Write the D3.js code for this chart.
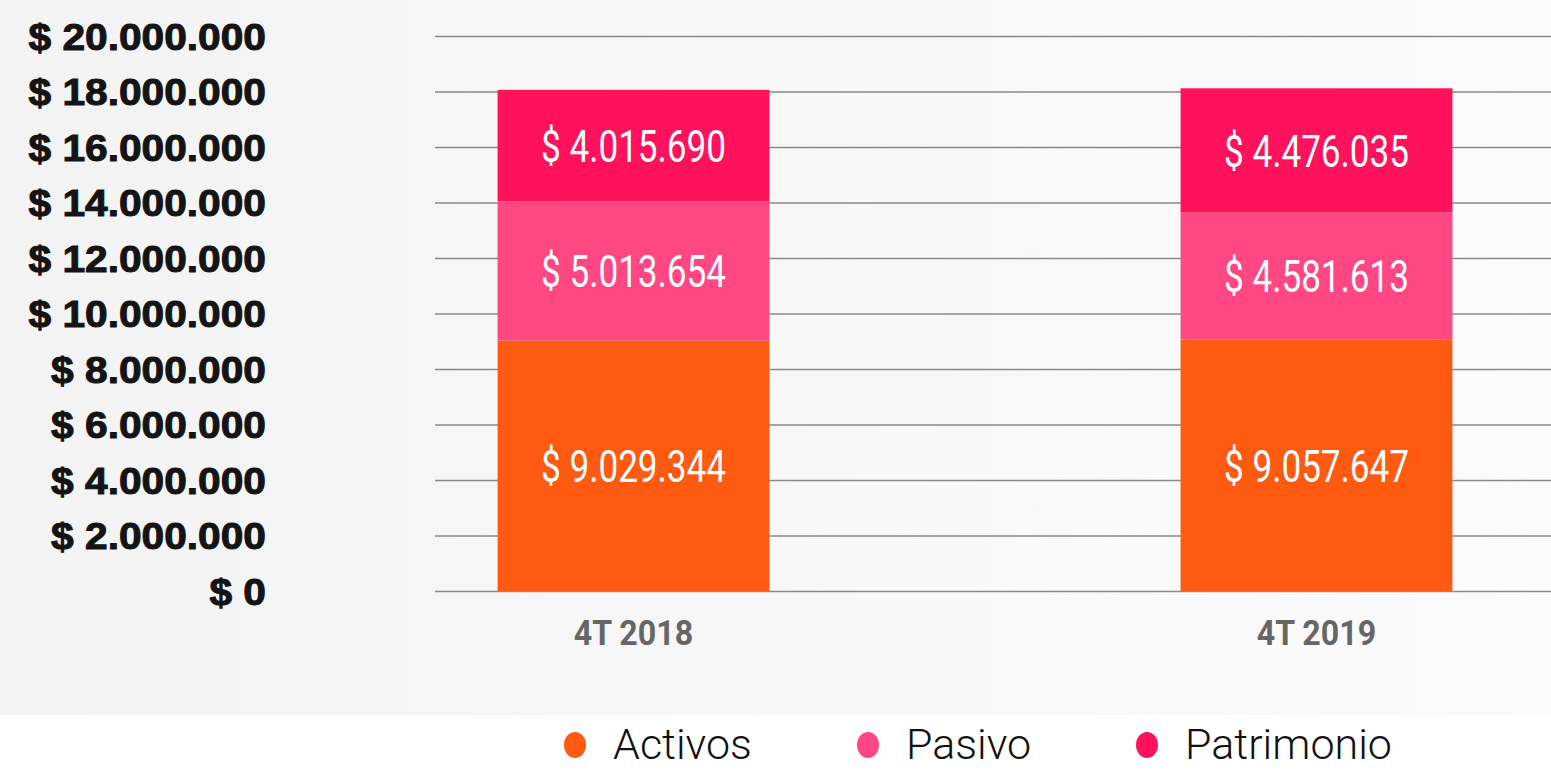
<!DOCTYPE html>
<html>
<head>
<meta charset="utf-8">
<script src="https://cdn.jsdelivr.net/npm/d3@7"></script>
<style>
  html, body { margin: 0; padding: 0; background: #fff; overflow: hidden; }
</style>
</head>
<body>
<div class="chart-container"></div>
<script>
//! DATA
const categories = ['4T 2018', '4T 2019'];
const seriesNames = ['Activos', 'Pasivo', 'Patrimonio'];
const activos = [9029344, 9057647];
const pasivo = [5013654, 4581613];
const patrimonio = [4015690, 4476035];
const yTicks = [0, 2000000, 4000000, 6000000, 8000000, 10000000, 12000000, 14000000, 16000000, 18000000, 20000000];
const colors = ['#ff5a12', '#ff4784', '#ff115b'];

//! CONSTS
const width = 1551;
const height = 770;

const fmt = (v) => '$ ' + d3.format(',')(v).replace(/,/g, '.');

const svg = d3.select('.chart-container')
  .append('svg')
  .attr('width', width)
  .attr('height', height);

//! BACKGROUND
const grad = svg.append('defs').append('linearGradient')
  .attr('id', 'bg').attr('x1', 0).attr('x2', 1).attr('y1', 0).attr('y2', 0);
grad.append('stop').attr('offset', 0).attr('stop-color', '#f3f3f3');
grad.append('stop').attr('offset', 0.45).attr('stop-color', '#f7f7f7');
grad.append('stop').attr('offset', 1).attr('stop-color', '#fbfbfc');
svg.append('rect').attr('width', width).attr('height', 715).attr('fill', 'url(#bg)');

// stacked rows
const rows = categories.map((c, i) => ({ cat: c, Activos: activos[i], Pasivo: pasivo[i], Patrimonio: patrimonio[i] }));
const stacked = d3.stack().keys(seriesNames)(rows);

//! SCALES
const x = d3.scaleBand()
  .domain(categories)
  .range([292, 1658])
  .paddingInner(0.602)
  .paddingOuter(0.301);

const y = d3.scaleLinear()
  .domain([0, 20000000])
  .range([591, 36]);

//! GRID
svg.append('g')
  .attr('transform', 'translate(1551,0)')
  .call(d3.axisRight(y).tickValues(yTicks).tickSize(-(1551 - 435)).tickFormat(''))
  .call(g => g.select('.domain').remove())
  .call(g => g.selectAll('line').attr('stroke', '#8a8a8a').attr('stroke-width', 1.5));

//! Y AXIS
svg.append('g')
  .attr('transform', 'translate(266,0)')
  .call(d3.axisLeft(y).tickValues(yTicks).tickSize(0).tickPadding(0).tickFormat(fmt))
  .call(g => g.select('.domain').remove())
  .call(g => g.selectAll('text')
    .attr('x', 0)
    .attr('transform', 'scale(1.1,1)')
    .attr('fill', '#141414')
    .attr('stroke', '#141414')
    .attr('stroke-width', 1)
    .attr('dy', '0.36em')
    .style('font-family', '"Liberation Sans", Arial, sans-serif')
    .style('font-weight', 700)
    .style('font-size', '37px'));

//! BARS
const layers = svg.append('g')
  .selectAll('g')
  .data(stacked)
  .enter()
  .append('g')
  .attr('fill', (d, i) => colors[i]);

layers.selectAll('rect')
  .data(d => d)
  .enter()
  .append('rect')
  .attr('x', d => x(d.data.cat))
  .attr('y', d => y(d[1]))
  .attr('width', x.bandwidth())
  .attr('height', d => y(d[0]) - y(d[1]));

// value labels
layers.selectAll('text')
  .data(d => d.map(p => ({ p, key: d.key })))
  .enter()
  .append('text')
  .attr('transform', d => `translate(${x(d.p.data.cat) + x.bandwidth() / 2},${(y(d.p[0]) + y(d.p[1])) / 2}) scale(0.78,1)`)
  .attr('text-anchor', 'middle')
  .attr('dy', '0.36em')
  .attr('fill', '#fff')
  .style('font-family', 'Roboto, sans-serif')
  .style('font-size', '45px')
  .text(d => fmt(d.p.data[d.key]));

//! X AXIS
svg.append('g')
  .attr('transform', 'translate(0,591)')
  .call(d3.axisBottom(x).tickSize(0).tickPadding(0))
  .call(g => g.select('.domain').remove())
  .call(g => g.selectAll('text')
    .attr('y', 0)
    .attr('dy', 0)
    .attr('transform', 'translate(0,54) scale(0.92,1)')
    .attr('fill', '#666')
    .style('font-family', 'Roboto, sans-serif')
    .style('font-weight', 700)
    .style('font-size', '35px'))
  .call(g => g.selectAll('.tick').attr('transform', d => `translate(${x(d) + x.bandwidth() / 2},0)`));

//! LEGEND
const legendX = [575, 868, 1147];
const legend = svg.append('g')
  .selectAll('g')
  .data(seriesNames)
  .enter()
  .append('g')
  .attr('transform', (d, i) => `translate(${legendX[i]},745)`);

legend.append('ellipse')
  .attr('rx', 11)
  .attr('ry', 13)
  .attr('fill', (d, i) => colors[i]);

legend.append('text')
  .attr('x', 38)
  .attr('y', 14)
  .attr('fill', '#111')
  .style('font-family', 'Roboto, sans-serif')
  .style('font-weight', 300)
  .style('font-size', '43px')
  .text(d => d);
</script>
</body>
</html>
